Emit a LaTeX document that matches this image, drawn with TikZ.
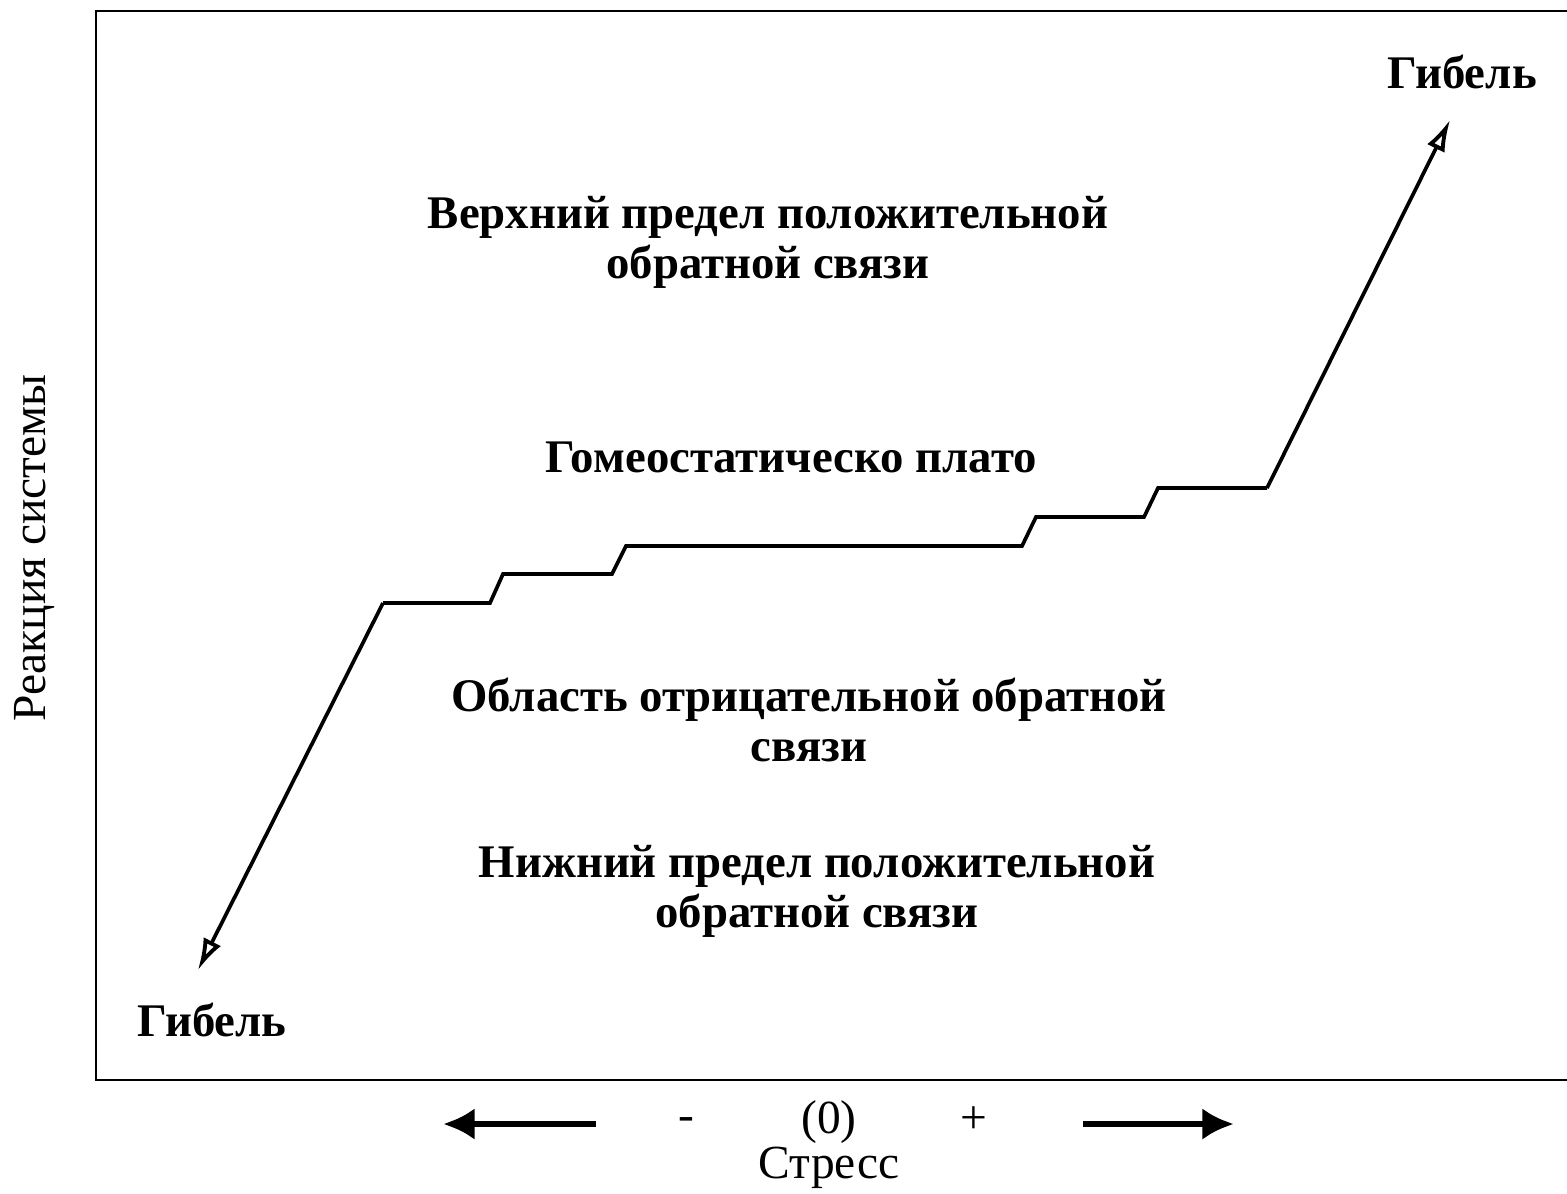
\documentclass[tikz,border=0pt]{standalone}
\usepackage{fontspec}
\setmainfont{Liberation Serif}
\usepackage{tikz}
\usetikzlibrary{positioning,arrows.meta}
\tikzset{zone/.style={font=\bfseries\fontsize{13.3}{14.2}\selectfont, align=center, inner sep=0pt},
% the zone labels sit inside the frame, bold and centred
axislabel/.style={font=\fontsize{13.5}{16}\selectfont, inner sep=0pt},
curve/.style={line width=1.05pt, line join=miter},
line/.style={-{Latex[open,length=9pt,width=5.5pt,line width=1.1pt]}},   % open heads at both ends of the curve
stress/.style={line width=1.8pt, -{Latex[length=9pt,width=9pt]}}
}
\begin{document}
\begin{tikzpicture}[x=0.01cm, y=-0.01cm]
    \useasboundingbox (0,0) rectangle (1567,1193);
    % frame, its right side lies outside the picture
    \draw[line width=0.6pt] (1567,11) -| (96,1080) -- (1567,1080);
    % points of the response curve
    \coordinate (lowtip) at (198,970);
    \coordinate (s0) at (383,603);
    \coordinate (s1) at (490,603);
    \coordinate (s2) at (503,574);
    \coordinate (s3) at (612,574);
    \coordinate (s4) at (626,546);
    \coordinate (s5) at (1022,546);
    \coordinate (s6) at (1036,517);
    \coordinate (s7) at (1144,517);
    \coordinate (s8) at (1158,488);
    \coordinate (s9) at (1267,488);
    \coordinate (hightip) at (1450,120);
    \draw[curve] (s0) -- (s1) -- (s2) -- (s3) -- (s4) -- (s5) -- (s6) -- (s7) -- (s8) -- (s9);
    \draw[curve, line] (s0) -- (lowtip);
    \draw[curve, line] (s9) -- (hightip);
    % labels
    \node[zone] (deathtop) at (1462,72) {Гибель};
    \node[zone] (deathlow) at (212,1020) {Гибель};
    \node[zone] (upper) at (768,242) {Верхний предел положительной\\обратной связи};
    \node[zone] (plateau) at (791,457) {Гомеостатическо плато};
    \node[zone] (negative) at (809,720) {Область отрицательной обратной\\связи};
    \node[zone] (lower) at (817,891) {Нижний предел положительной\\обратной связи};
    \node[axislabel, rotate=90] (response) at (35,548) {Реакция системы};
    % stress axis under the frame
    \node[axislabel] (zero) at (829,1122) {(0)};
    \node[axislabel] (minus) at (686,1124) {-};
    \node[axislabel] (plus) at (974,1120) {+};
    \node[axislabel, below=13pt of zero.center, anchor=center] (stresslabel) {Стресс};
    \coordinate (lefttail) at (596,1124);
    \coordinate (lefthead) at (443,1124);
    \coordinate (righttail) at (1083,1124);
    \coordinate (righthead) at (1234,1124);
    \draw[stress] (lefttail) -- (lefthead);
    \draw[stress] (righttail) -- (righthead);
  \end{tikzpicture}
\end{document}
